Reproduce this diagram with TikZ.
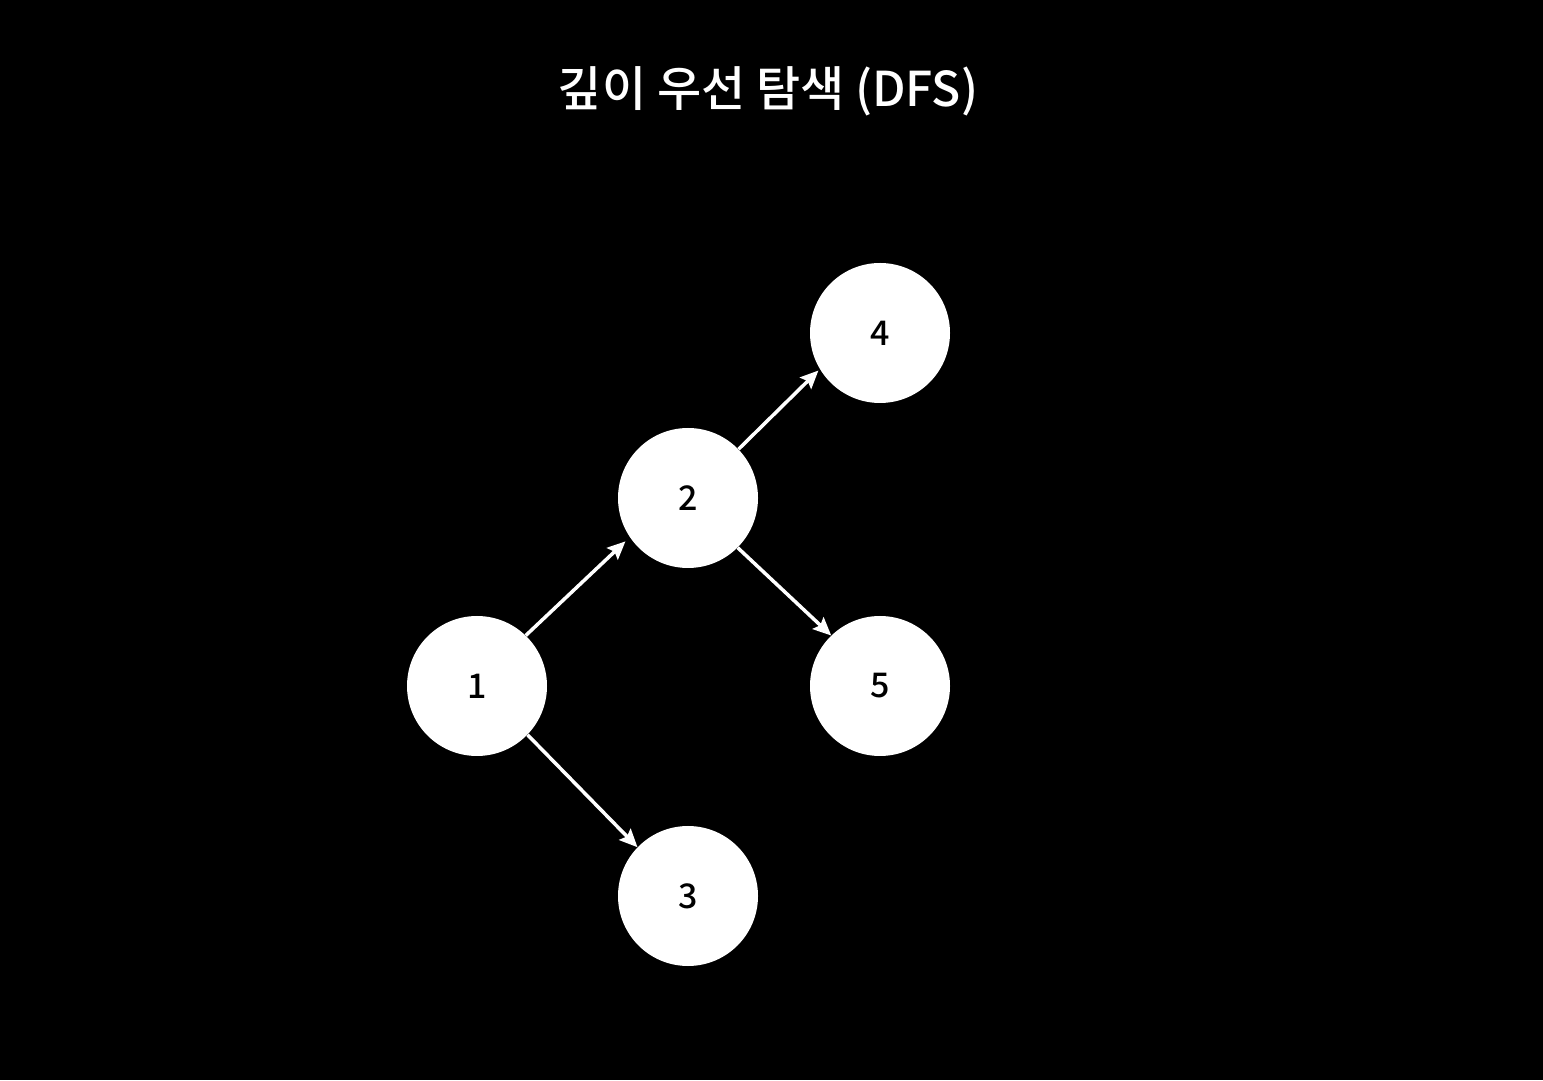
\documentclass[tikz,border=0pt]{standalone}
\usepackage{fontspec}
\setmainfont{Noto Sans CJK KR}[BoldFont={Noto Sans CJK KR Medium}]
\usetikzlibrary{arrows.meta}
\begin{document}
\begin{tikzpicture}[x=1pt,y=1pt,
  vertex/.style={circle,fill=white,draw=none,minimum size=140pt,inner sep=0pt,text=black,font=\fontsize{34}{34}\selectfont\bfseries},
  edge/.style={draw=white,line width=3.5pt,-{Stealth[length=18pt,width=16pt,inset=3pt]}}]
\fill[black] (0,0) rectangle (1543,1080);
\useasboundingbox (0,0) rectangle (1543,1080);
\node[text=white,font=\fontsize{48}{48}\selectfont\bfseries] (title) at (768,989) {깊이 우선 탐색 (DFS)};
\node[vertex] (n1) at (477,394) {1};
\node[vertex] (n2) at (688,582) {2};
\node[vertex] (n3) at (688,184) {3};
\node[vertex] (n4) at (880,747) {4};
\node[vertex] (n5) at (880,394) {5};
\draw[edge,shorten >=6pt] (n1.46) -- (n2.214);
\draw[edge,shorten >=2pt] (n2.44) -- (n4.211);
\draw[edge] (n2.-45) -- (n5.134);
\draw[edge] (n1.-44) -- (n3.136);
\end{tikzpicture}
\end{document}
